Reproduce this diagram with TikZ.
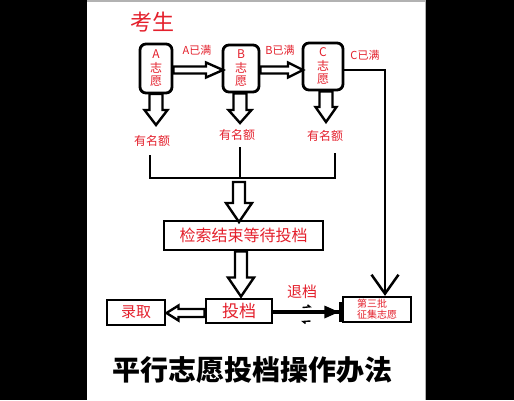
\documentclass[tikz,border=0pt]{standalone}
\usepackage{fontspec}
\setmainfont{Noto Sans CJK SC}
\usetikzlibrary{arrows.meta,calc}
\definecolor{cred}{RGB}{228,32,44}
\newcommand\fs[1]{\fontsize{#1}{#1}\selectfont}
% vertical hollow arrow: x, ystart, ytip, shaft half, head half, head length
\newcommand\vblock[6]{%
  \filldraw[blk] (#1-#4,#2) -- (#1-#4,#3-#6) -- (#1-#5,#3-#6) -- (#1,#3) -- (#1+#5,#3-#6) -- (#1+#4,#3-#6) -- (#1+#4,#2) -- cycle;}
% right-pointing hollow arrow: y, xstart, xtip, shaft half, head half, head length
\newcommand\rblock[6]{%
  \filldraw[blk] (#2,#1-#4) -- (#3-#6,#1-#4) -- (#3-#6,#1-#5) -- (#3,#1) -- (#3-#6,#1+#5) -- (#3-#6,#1+#4) -- (#2,#1+#4) -- cycle;}
% left-pointing hollow arrow
\newcommand\lblock[6]{%
  \filldraw[blk] (#2,#1-#4) -- (#3+#6,#1-#4) -- (#3+#6,#1-#5) -- (#3,#1) -- (#3+#6,#1+#5) -- (#3+#6,#1+#4) -- (#2,#1+#4) -- cycle;}
\begin{document}
\begin{tikzpicture}[x=1pt,y=-1pt,
  blk/.style={draw=black,fill=white,line width=2.4pt,line join=miter},
  choice/.style={draw=black,line width=2.8pt,rounded corners=6pt,inner sep=0pt,
    align=center,text=cred,font=\fontsize{12}{13.5}\selectfont},
  sqbox/.style={draw=black,line width=2.3pt,inner sep=0pt,text=cred},
  lbl/.style={text=cred,inner sep=0pt},
  conn/.style={line width=2.5pt}]
\useasboundingbox (0,0) rectangle (514,400);
\fill[black] (0,0) rectangle (514,400);
\fill[white] (87,1.5) rectangle (425,400);
\fill[gray!60] (87,0) rectangle (425,1.5);
\fill[gray!60] (424.5,0) rectangle (426,400);

% title
\node[lbl,font=\fs{22}] (ks) at (152,22) {考生};

% choice boxes
\node[choice,minimum width=32pt,minimum height=49pt] (A) at (156,68.5) {A\\志\\愿};
\node[choice,minimum width=36pt,minimum height=47pt] (B) at (241,68.5) {B\\志\\愿};
\node[choice,minimum width=40pt,minimum height=47pt] (C) at (323,66.5) {C\\志\\愿};

\node[lbl,font=\fs{11}] (lA) at (197,50) {A已满};
\node[lbl,font=\fs{11}] (lB) at (280,50) {B已满};
\node[lbl,font=\fs{11}] (lC) at (365,55) {C已满};

% horizontal hollow arrows
\rblock{70}{173.5}{223}{3.5}{7.5}{17}
\rblock{70}{260.5}{303}{3.5}{7.5}{15}

% down hollow arrows
\vblock{156}{94}{125}{6.5}{11.5}{15}
\vblock{240}{93.5}{123}{6.5}{11.5}{13}
\vblock{326}{91.5}{122}{6.5}{10.5}{15}

\node[lbl,font=\fs{12}] (yA) at (152,141) {有名额};
\node[lbl,font=\fs{12}] (yB) at (237,135) {有名额};
\node[lbl,font=\fs{12}] (yC) at (325,136) {有名额};

% bracket
\coordinate (bl) at (150,178);
\coordinate (bm) at (240,178);
\coordinate (br) at (335,178);
\draw[conn] (150,155) -- (bl) -- (br) -- (335,153);
\draw[conn] (240,147) -- (bm);

\vblock{239}{182}{222}{6}{13}{19}

\node[sqbox,minimum width=159pt,minimum height=29pt,font=\fs{16}] (wait) at (243.5,235.5) {检索结束等待投档};

\vblock{241}{251.5}{296.5}{6}{13}{19}

\node[sqbox,minimum width=66pt,minimum height=24pt,font=\fs{17}] (tou) at (239,311) {投档};
\node[sqbox,minimum width=58pt,minimum height=25pt,font=\fs{15}] (lu) at (136,312.5) {录取};
\node[sqbox,minimum width=68pt,minimum height=25pt,align=left,
  font=\fontsize{10}{11}\selectfont] (third) at (377,309.5) {第三批\\征集志愿};

% tou -> lu
\lblock{313}{204.5}{166.5}{4}{7.5}{12}

% tou -> third
\draw[line width=3.2pt,-{Triangle[length=15pt,width=12pt]Bar[width=20pt,line width=2.5pt]}]
  (tou.east |- 0,312) -- (third.west |- 0,312);
\node[lbl,font=\fs{15}] (tui) at (302,292) {退档};
\draw[line width=1.4pt] (302.5,307.5) -- (310,306.8) -- (307.5,304.8);
\draw[line width=1.4pt] (310.5,321) -- (303,321.5) -- (305.5,323.5);

% C full -> third
\coordinate (cturn) at (385,70);
\draw[conn,-{Straight Barb[length=19pt,width=27pt,line width=2.5pt]}]
  (C.east |- cturn) -- (cturn) -- (cturn |- third.north);

% caption
\node[inner sep=0pt,font=\bfseries\fs{28}] (cap) at (252,370) {平行志愿投档操作办法};
\end{tikzpicture}
\end{document}
